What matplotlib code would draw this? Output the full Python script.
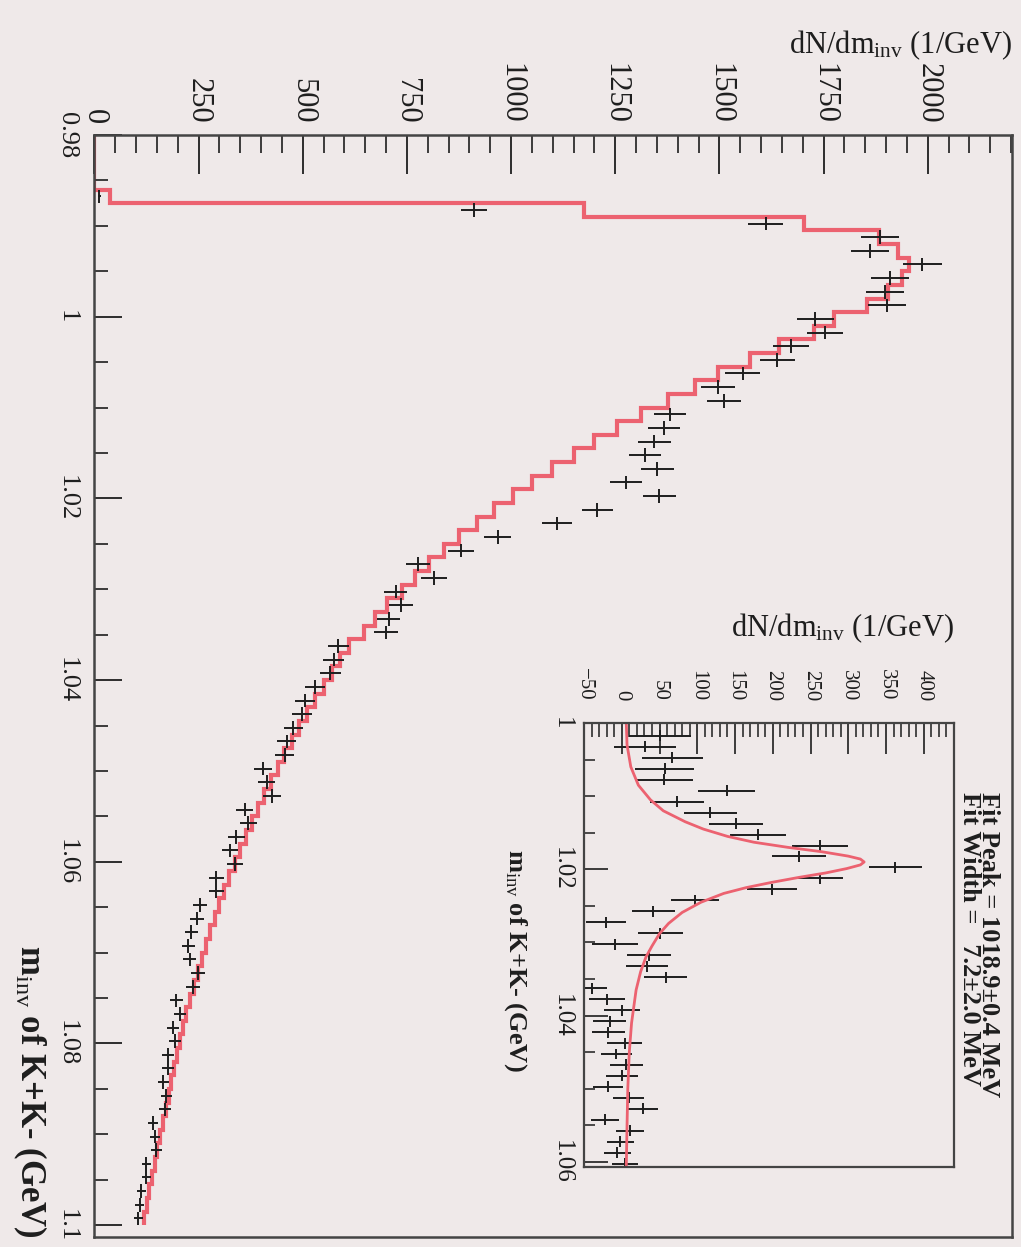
import numpy as np
import matplotlib
matplotlib.use("Agg")
from matplotlib import pyplot as plt
from matplotlib.ticker import MultipleLocator, FuncFormatter

plt.rcParams["font.family"] = ["Liberation Serif", "DejaVu Serif"]
plt.rcParams["mathtext.fontset"] = "custom"
plt.rcParams["mathtext.rm"] = "Liberation Serif"
plt.rcParams["mathtext.it"] = "Liberation Serif:italic"
plt.rcParams["mathtext.bf"] = "Liberation Serif:bold"

# binning of the K+K- invariant mass histogram (GeV)
bin_lo = 0.98
bin_width = 0.0015
n_bins = 80

# red histogram (mixed-event background), one value per bin
red_hist = [0, 0, 0, 0, 37, 1175, 1703, 1882, 1928, 1955,
            1937, 1905, 1854, 1776, 1726, 1643, 1574, 1496, 1441, 1377,
            1312, 1253, 1200, 1151, 1097, 1050, 1005, 958, 918, 874,
            838, 802, 770, 738, 702, 674, 646, 610, 590, 570,
            550, 530, 510, 492, 474, 456, 440, 424, 408, 393,
            378, 364, 350, 337, 324, 312, 300, 289, 278, 268,
            258, 248, 239, 229, 220, 212, 205, 198, 191, 184,
            178, 171, 164, 158, 151, 145, 139, 132, 126, 120]

# data points (dN/dm, 1/GeV), starting at bin 4
data_first_bin = 4
data_vals = [12, 911, 1611, 1886, 1862, 1987, 1909, 1898, 1902, 1730,
             1753, 1671, 1639, 1556, 1496, 1510, 1381, 1367, 1344, 1321,
             1351, 1276, 1356, 1207, 1110, 968, 879, 777, 815, 723,
             735, 706, 700, 585, 574, 566, 529, 505, 498, 477,
             461, 457, 405, 413, 426, 361, 369, 341, 325, 337,
             293, 293, 253, 246, 233, 225, 229, 249, 237, 197,
             205, 189, 193, 177, 177, 165, 173, 169, 141, 145,
             149, 125, 125, 113, 109, 105]
err_scale = 1.11  # Poisson error: err = sqrt(err_scale * value)

# inset: background subtracted signal, starting at bin 14
inset_first_bin = 14
inset_vals = [51, 31, 67, 57, 56, 139, 73, 117, 151, 180,
              262, 235, 362, 262, 199, 97, 42, -21, 51, -9,
              36, 33, 58, -39, -20, 0, -16, -18, 4, -7,
              6, 0, -18, 9, 28, -22, 11, -2, -6, 4]
inset_errs = [41, 41, 40, 39, 38, 38, 36, 35, 36, 37,
              37, 36, 35, 31, 33, 32, 28, 26, 30, 30,
              29, 28, 28, 20, 24, 24, 22, 22, 23, 21,
              22, 21, 20, 20, 20, 19, 19, 18, 18, 17]

# fitted curve in the inset
fit_mass = [1.0000, 1.0030, 1.0060, 1.0085, 1.0105, 1.0120, 1.0135, 1.0145,
            1.0155, 1.0163, 1.0170, 1.0176, 1.0182, 1.0186, 1.0190, 1.0194,
            1.0199, 1.0205, 1.0211, 1.0218, 1.0225, 1.0233, 1.0245, 1.0259,
            1.0274, 1.0288, 1.0305, 1.0320, 1.0340, 1.0365, 1.0410, 1.0450,
            1.0500, 1.0550, 1.0607]
fit_vals = [6, 7, 12, 22, 38, 55, 84, 108,
            140, 175, 220, 265, 300, 316, 321, 316,
            298, 270, 235, 198, 165, 135, 105, 80,
            62, 50, 40, 32, 25, 19, 13, 10,
            8, 7, 6]

fit_text = "Fit Peak = 1018.9\u00b10.4 MeV\nFit Width =   7.2\u00b12.0 MeV"

bg = "#efe9e9"
red = "#ec6270"
ink = "#1e1e1e"
W, H = 1021, 1247

edges = bin_lo + bin_width * np.arange(n_bins + 1)
centers = edges[:-1] + bin_width / 2

fig = plt.figure(figsize=(W / 100, H / 100), dpi=100, facecolor=bg)

# ---- main plot (drawn rotated: mass runs downwards, counts to the right)
ax = fig.add_axes([94.4 / W, 1 - 1237 / H, (1012 - 94.4) / W, (1237 - 135) / H])
ax.set_facecolor(bg)
ax.stairs(red_hist, edges, orientation="horizontal", baseline=None,
          color=red, lw=3)
dv = np.array(data_vals, dtype=float)
dc = centers[data_first_bin:data_first_bin + len(dv)]
ax.errorbar(dv, dc, xerr=np.sqrt(err_scale * dv), yerr=bin_width / 2,
            fmt="none", ecolor=ink, elinewidth=1.4)
ax.set_xlim(0, 2202)
ax.set_ylim(1.1013, 0.98)

ax.xaxis.tick_top()
ax.xaxis.set_major_locator(MultipleLocator(250))
ax.xaxis.set_minor_locator(MultipleLocator(50))
ax.yaxis.set_major_locator(MultipleLocator(0.02))
ax.yaxis.set_minor_locator(MultipleLocator(0.005))
ax.yaxis.set_major_formatter(FuncFormatter(lambda v, p: "%g" % round(v, 3)))
ax.tick_params(axis="x", which="major", direction="in", length=28, width=1.3,
               pad=8, labelsize=22, labelrotation=270, colors=ink)
ax.tick_params(axis="x", which="minor", direction="in", length=13, width=1.2, colors=ink)
ax.tick_params(axis="y", which="major", direction="in", length=20, width=1.3,
               pad=12, labelsize=19, labelrotation=270, colors=ink)
ax.tick_params(axis="y", which="minor", direction="in", length=10, width=1.2, colors=ink)
for lab in ax.get_yticklabels():
    lab.set_va("center")
for s in ax.spines.values():
    s.set_color("#444444")
    s.set_linewidth(1.8)

fig.text(1012 / W, 1 - 45 / H, r"dN/dm$_{\rm inv}$ (1/GeV)", fontsize=22,
         color=ink, ha="right", va="center")
fig.text(30 / W, 1 - 1238 / H, r"m$_{\rm inv}$ of K+K- (GeV)", fontsize=25,
         fontweight="bold", color=ink, rotation=270, rotation_mode="anchor",
         ha="right", va="center")

# ---- inset with the background subtracted peak
axi = fig.add_axes([584 / W, 1 - 1167 / H, (954 - 584) / W, (1167 - 723) / H])
axi.set_facecolor(bg)
iv = np.array(inset_vals, dtype=float)
ic = centers[inset_first_bin:inset_first_bin + len(iv)]
axi.errorbar(iv, ic, xerr=inset_errs, yerr=bin_width / 2,
             fmt="none", ecolor=ink, elinewidth=1.4)
axi.plot(fit_vals, fit_mass, color=red, lw=2)
axi.set_xlim(-50, 440)
axi.set_ylim(1.0607, 1.0)
axi.xaxis.tick_top()
axi.xaxis.set_major_locator(MultipleLocator(50))
axi.xaxis.set_minor_locator(MultipleLocator(10))
axi.yaxis.set_major_locator(MultipleLocator(0.02))
axi.yaxis.set_minor_locator(MultipleLocator(0.005))
axi.yaxis.set_major_formatter(FuncFormatter(lambda v, p: "%g" % round(v, 3)))
axi.tick_params(axis="x", which="major", direction="in", length=22, width=1.2,
                pad=16, labelsize=15, labelrotation=270, colors=ink)
axi.tick_params(axis="x", which="minor", direction="in", length=10, width=1.1, colors=ink)
axi.tick_params(axis="y", which="major", direction="in", length=17, width=1.2,
                pad=8, labelsize=18, labelrotation=270, colors=ink)
axi.tick_params(axis="y", which="minor", direction="in", length=8, width=1.1, colors=ink)
for lab in axi.get_yticklabels():
    lab.set_va("center")
for s in axi.spines.values():
    s.set_color("#444444")
    s.set_linewidth(1.6)

fig.text(954 / W, 1 - 628 / H, r"dN/dm$_{\rm inv}$ (1/GeV)", fontsize=22,
         color=ink, ha="right", va="center")
fig.text(515 / W, 1 - 960 / H, r"m$_{\rm inv}$ of K+K- (GeV)", fontsize=19,
         fontweight="bold", color=ink, rotation=270, rotation_mode="anchor",
         ha="center", va="center")
fig.text(979 / W, 1 - 792 / H, fit_text, fontsize=19, linespacing=0.76,
         fontweight="bold", color=ink, rotation=270, rotation_mode="anchor",
         ha="left", va="center", multialignment="left")

fig.savefig("out.png", dpi=100, facecolor=bg)
